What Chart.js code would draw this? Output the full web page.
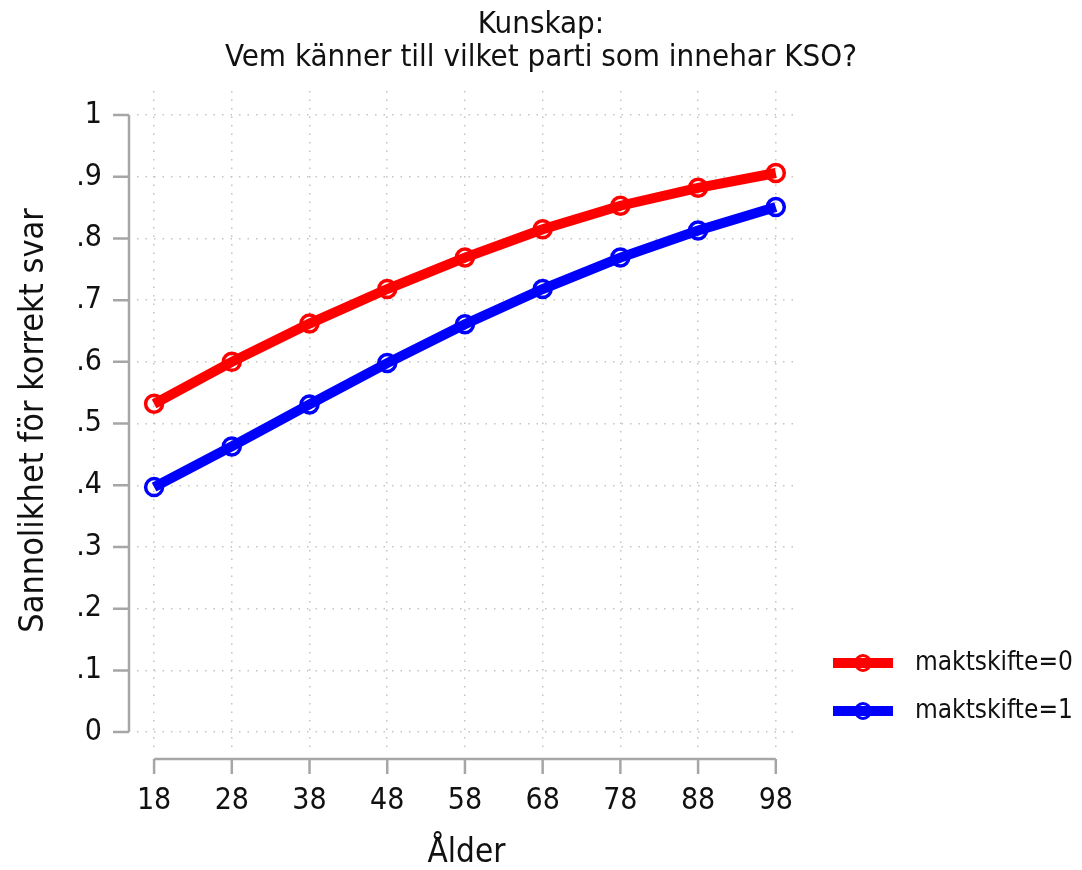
<!DOCTYPE html>
<html>
<head>
<meta charset="utf-8">
<script src="https://cdn.jsdelivr.net/npm/chart.js@4.4.1/dist/chart.umd.min.js"></script>
<style>
  body { margin: 0; background: #fff; }
</style>
</head>
<body>
<canvas id="chart" width="1082" height="870"></canvas>
<script>
const ages = [18, 28, 38, 48, 58, 68, 78, 88, 98];
const maktskifte0 = [0.532, 0.600, 0.662, 0.718, 0.769, 0.815, 0.853, 0.882, 0.906];
const maktskifte1 = [0.397, 0.463, 0.531, 0.598, 0.661, 0.718, 0.769, 0.813, 0.851];
const xTicks = [18, 28, 38, 48, 58, 68, 78, 88, 98];
const yTicks = [0, 0.1, 0.2, 0.3, 0.4, 0.5, 0.6, 0.7, 0.8, 0.9, 1];

const FONT = '"Liberation Sans Narrow", "DejaVu Sans Condensed", "Open Sans", sans-serif';
const AXIS = '#a6a6a6';

const fmtY = v => (v === 0 || v === 1) ? String(v) : String(Math.round(v * 10) / 10).replace(/^0/, '');

// stata-like detached axes + legend on the right
const stataAxes = {
  id: 'stataAxes',
  afterDraw(chart) {
    const ctx = chart.ctx;
    const x = chart.scales.x, y = chart.scales.y;
    ctx.save();
    ctx.strokeStyle = AXIS;
    ctx.lineWidth = 2.5;
    ctx.lineCap = 'butt';
    // y axis
    const ax = 129;
    ctx.beginPath();
    ctx.moveTo(ax, y.getPixelForValue(0));
    ctx.lineTo(ax, y.getPixelForValue(1));
    yTicks.forEach(v => {
      const py = y.getPixelForValue(v);
      ctx.moveTo(ax, py);
      ctx.lineTo(113, py);
    });
    // x axis
    const ay = 759;
    ctx.moveTo(x.getPixelForValue(xTicks[0]), ay);
    ctx.lineTo(x.getPixelForValue(xTicks[xTicks.length - 1]), ay);
    xTicks.forEach(v => {
      const px = x.getPixelForValue(v);
      ctx.moveTo(px, ay);
      ctx.lineTo(px, 774);
    });
    ctx.stroke();

    // legend
    chart.data.datasets.forEach((ds, i) => {
      const ly = 663 + 48 * i;
      ctx.strokeStyle = ds.borderColor;
      ctx.lineWidth = 10;
      ctx.beginPath();
      ctx.moveTo(833, ly);
      ctx.lineTo(893, ly);
      ctx.stroke();
      ctx.lineWidth = 3;
      ctx.beginPath();
      ctx.arc(863, ly, 7.5, 0, Math.PI * 2);
      ctx.stroke();
      ctx.fillStyle = '#111';
      ctx.font = '26px ' + FONT;
      ctx.textBaseline = 'middle';
      ctx.textAlign = 'left';
      ctx.fillText(ds.label, 915, ly);
    });
    ctx.restore();
  }
};

const ctx = document.getElementById('chart').getContext('2d');
new Chart(ctx, {
  type: 'line',
  data: {
    labels: ages,
    datasets: [
      {
        label: 'maktskifte=0',
        data: ages.map((a, i) => ({ x: a, y: maktskifte0[i] })),
        borderColor: '#ff0000',
        borderWidth: 10,
        pointRadius: 8.5,
        pointBorderWidth: 3.5,
        pointBackgroundColor: 'rgba(0,0,0,0)',
        pointBorderColor: '#ff0000',
        tension: 0,
      },
      {
        label: 'maktskifte=1',
        data: ages.map((a, i) => ({ x: a, y: maktskifte1[i] })),
        borderColor: '#0000ff',
        borderWidth: 10,
        pointRadius: 8.5,
        pointBorderWidth: 3.5,
        pointBackgroundColor: 'rgba(0,0,0,0)',
        pointBorderColor: '#0000ff',
        tension: 0,
      },
    ],
  },
  options: {
    responsive: false,
    animation: false,
    layout: { padding: 0 },
    plugins: {
      legend: { display: false },
      tooltip: { enabled: false },
      title: {
        display: true,
        text: ['Kunskap:', 'Vem känner till vilket parti som innehar KSO?'],
        color: '#111',
        font: { family: FONT, size: 31, weight: 'normal', lineHeight: 1.08 },
        padding: { top: 8, bottom: 16 },
      },
    },
    scales: {
      x: {
        type: 'linear',
        min: 15.8,
        max: 100.6,
        afterBuildTicks: s => { s.ticks = xTicks.map(v => ({ value: v })); },
        afterFit: s => { s.height = 120; },
        grid: { color: '#c4c4c4', lineWidth: 1.5, drawTicks: false },
        border: { display: false, dash: [1.5, 7] },
        ticks: {
          color: '#111',
          padding: 33,
          maxRotation: 0,
          font: { family: FONT, size: 30 },
        },
        title: {
          display: true,
          text: 'Ålder',
          color: '#111',
          font: { family: FONT, size: 33, lineHeight: 1 },
          padding: { top: 0, bottom: 0 },
        },
      },
      y: {
        min: -0.029,
        max: 1.039,
        afterBuildTicks: s => { s.ticks = yTicks.map(v => ({ value: v })); },
        afterFit: s => { s.width = 137; },
        grid: { color: '#c4c4c4', lineWidth: 1.5, drawTicks: false },
        border: { display: false, dash: [1.5, 7] },
        ticks: {
          color: '#111',
          padding: 35,
          font: { family: FONT, size: 30 },
          callback: v => fmtY(v),
        },
        title: {
          display: true,
          text: 'Sannolikhet för korrekt svar',
          color: '#111',
          font: { family: FONT, size: 34, lineHeight: 1.2 },
          padding: { top: 14, bottom: 0 },
        },
      },
      // empty right-hand box that reserves room for the legend
      legendSpace: {
        position: 'right',
        grid: { display: false, drawTicks: false },
        border: { display: false },
        ticks: { display: false },
        afterFit: s => { s.width = 286; },
      },
    },
  },
  plugins: [stataAxes],
});
</script>
</body>
</html>
